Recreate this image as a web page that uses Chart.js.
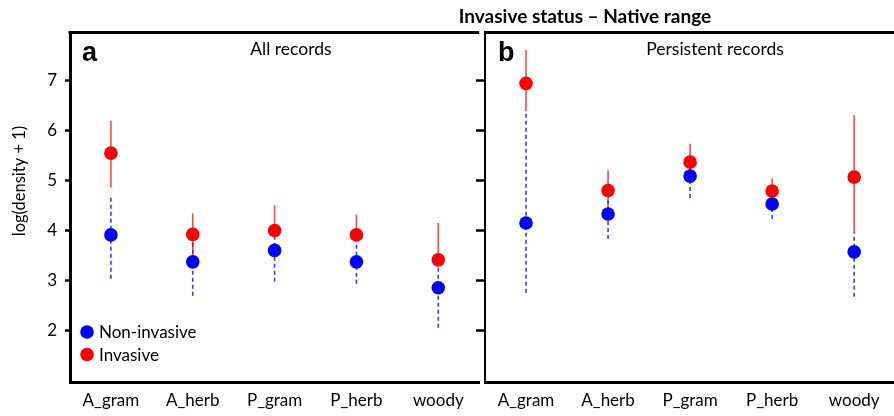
<!DOCTYPE html>
<html><head><meta charset="utf-8">
<script src="https://cdn.jsdelivr.net/npm/chart.js@4.4.1/dist/chart.umd.min.js"></script>
<style>
html,body{margin:0;padding:0;background:#fff;}
#wrap{position:relative;width:894px;height:416px;overflow:hidden;background:#fff;}
#c1{position:absolute;left:0;top:0;}
#c2{position:absolute;left:440px;top:0;}
</style></head><body>
<div id="wrap"><canvas id="c1" width="486" height="416"></canvas><canvas id="c2" width="462" height="416"></canvas></div>
<script>
// ---- data ----
const categories = ['A_gram', 'A_herb', 'P_gram', 'P_herb', 'woody'];
const yTicks = [2, 3, 4, 5, 6, 7];
const seriesNames = ['Non-invasive', 'Invasive'];
const figureTitle = 'Invasive status \u2013 Native range';
const panelTitles = ['All records', 'Persistent records'];
const panelLetters = ['a', 'b'];
const yAxisTitle = 'log(density + 1)';

// panel a: All records
const allNonMean = [3.91, 3.37, 3.60, 3.37, 2.85];
const allNonLow  = [3.03, 2.69, 2.97, 2.93, 2.05];
const allNonHigh = [4.69, 3.90, 4.05, 3.85, 3.45];
const allInvMean = [5.55, 3.92, 4.00, 3.91, 3.41];
const allInvLow  = [4.86, 3.45, 3.90, 3.82, 3.32];
const allInvHigh = [6.20, 4.34, 4.50, 4.32, 4.15];

// panel b: Persistent records
const perNonMean = [4.15, 4.33, 5.09, 4.53, 3.57];
const perNonLow  = [2.75, 3.83, 4.65, 4.23, 2.67];
const perNonHigh = [6.39, 4.60, 5.30, 4.70, 3.97];
const perInvMean = [6.95, 4.80, 5.37, 4.79, 5.07];
const perInvLow  = [6.39, 4.40, 5.15, 4.60, 3.97];
const perInvHigh = [7.62, 5.20, 5.74, 5.04, 6.31];

const BLUE = '#0000ff', RED = '#ff0000';
const BLUE_BAR = '#3a3aff', RED_BAR = 'rgba(255,0,0,0.72)';
const FONT = 'Lato, "Open Sans", sans-serif';
const TXT = '#000';

function barData(lo, hi) {
  const out = [];
  categories.forEach((c, i) => {
    out.push({x: c, y: lo[i]}, {x: c, y: hi[i]}, {x: c, y: null});
  });
  return out;
}

function datasets(nonMean, nonLow, nonHigh, invMean, invLow, invHigh) {
  const pt = (label, data, color, order) => ({
    type: 'line', label, data, showLine: false, order,
    pointRadius: 6.8, pointHoverRadius: 6.8, pointBorderWidth: 0,
    pointBackgroundColor: color, pointBorderColor: color, backgroundColor: color, borderColor: color
  });
  const bar = (label, data, color, dash, order) => ({
    type: 'line', label, data, order, spanGaps: false, borderColor: color,
    borderWidth: 1.6, borderDash: dash, pointRadius: 0, pointHoverRadius: 0, fill: false
  });
  return [
    pt(seriesNames[0], nonMean, BLUE, 1),
    pt(seriesNames[1], invMean, RED, 2),
    bar(seriesNames[1] + ' CI', barData(invLow, invHigh), RED_BAR, [], 3),
    bar(seriesNames[0] + ' CI', barData(nonLow, nonHigh), BLUE_BAR, [4, 3], 4)
  ];
}

function yScale(showLabels, tickLen, borderW, axisWidth) {
  return {
    type: 'linear', min: 0.95, max: 7.97,
    afterBuildTicks: s => { s.ticks = yTicks.map(v => ({value: v})); },
    afterFit: s => { s.width = axisWidth; },
    grid: {display: true, drawOnChartArea: false, drawTicks: true, tickLength: tickLen, tickWidth: 2.5, tickColor: '#000'},
    border: {display: true, width: borderW, color: '#000'},
    ticks: {display: showLabels, color: TXT, padding: 8, font: {family: FONT, size: 17}}
  };
}
const xScale = {
  type: 'category', labels: categories, offset: true,
  afterFit: s => { s.height = 33.5; },
  grid: {display: false, drawTicks: false},
  border: {display: true, width: 3, color: '#000'},
  ticks: {color: TXT, padding: 8, maxRotation: 0, autoSkip: false, font: {family: FONT, size: 17}}
};

const panelA = {
  id: 'panelA',
  afterDraw(chart) {
    const {ctx, chartArea: a} = chart;
    ctx.save();
    ctx.strokeStyle = '#000'; ctx.lineWidth = 3;
    ctx.beginPath(); ctx.moveTo(a.left - 1.5, a.top); ctx.lineTo(a.right, a.top); ctx.stroke();
    ctx.fillStyle = '#000';
    ctx.font = 'bold 27px "Liberation Sans", Arial, sans-serif';
    ctx.textAlign = 'left'; ctx.textBaseline = 'alphabetic';
    ctx.fillText(panelLetters[0], a.left + 12, a.top + 28.5);
    ctx.font = '17.5px ' + FONT; ctx.textAlign = 'center'; ctx.fillStyle = TXT;
    ctx.fillText(panelTitles[0], a.left + (a.right - a.left) * 0.54, a.top + 22.5);
    // legend
    const cols = [BLUE, RED];
    ctx.font = '17px ' + FONT; ctx.textAlign = 'left'; ctx.textBaseline = 'middle';
    [a.bottom - 50.5, a.bottom - 28].forEach((yy, i) => {
      ctx.fillStyle = cols[i]; ctx.beginPath(); ctx.arc(a.left + 17, yy, 6.8, 0, Math.PI * 2); ctx.fill();
      ctx.fillStyle = TXT; ctx.fillText(seriesNames[i], a.left + 29, yy + 1);
    });
    // y axis title
    ctx.save();
    ctx.translate(20, 181); ctx.rotate(-Math.PI / 2);
    ctx.font = '16.5px ' + FONT; ctx.textAlign = 'center'; ctx.textBaseline = 'middle';
    ctx.fillText(yAxisTitle, 0, 0);
    ctx.restore();
    ctx.restore();
  }
};
const panelB = {
  id: 'panelB',
  afterDraw(chart) {
    const {ctx, chartArea: a} = chart;
    ctx.save();
    ctx.strokeStyle = '#000'; ctx.lineWidth = 3;
    ctx.beginPath(); ctx.moveTo(a.left - 1, a.top); ctx.lineTo(chart.width, a.top); ctx.stroke();
    ctx.fillStyle = '#000';
    ctx.font = 'bold 27px "Liberation Sans", Arial, sans-serif';
    ctx.textAlign = 'left'; ctx.textBaseline = 'alphabetic';
    ctx.fillText(panelLetters[1], a.left + 13, a.top + 28.5);
    ctx.font = '17.5px ' + FONT; ctx.textAlign = 'center'; ctx.fillStyle = TXT;
    ctx.fillText(panelTitles[1], a.left + 230, a.top + 22.5);
    ctx.font = 'bold 19px ' + FONT; ctx.fillStyle = '#000';
    ctx.fillText(figureTitle, a.left + 100, 23);
    ctx.restore();
  }
};

function makeChart(id, ds, yOpts, plugin, padRight) {
  return new Chart(document.getElementById(id), {
    type: 'line',
    data: {labels: categories, datasets: ds},
    options: {
      responsive: false, animation: false, devicePixelRatio: 1,
      layout: {padding: {top: 32.5, right: padRight, bottom: 0, left: 0}},
      plugins: {legend: {display: false}, tooltip: {enabled: false}, title: {display: false}},
      scales: {x: xScale, y: yOpts}
    },
    plugins: [plugin]
  });
}

function build() {
  makeChart('c1', datasets(allNonMean, allNonLow, allNonHigh, allInvMean, allInvLow, allInvHigh),
    yScale(true, 5, 3, 70), panelA, 1);
  makeChart('c2', datasets(perNonMean, perNonLow, perNonHigh, perInvMean, perInvLow, perInvHigh),
    yScale(false, 9, 2, 45), panelB, 0);
}
const fontLoads = ['16px Lato', 'bold 18px Lato', 'bold 27px "Liberation Sans"'].map(f => document.fonts.load(f).catch(() => null));
Promise.all(fontLoads).then(build, build);
</script>
</body></html>
